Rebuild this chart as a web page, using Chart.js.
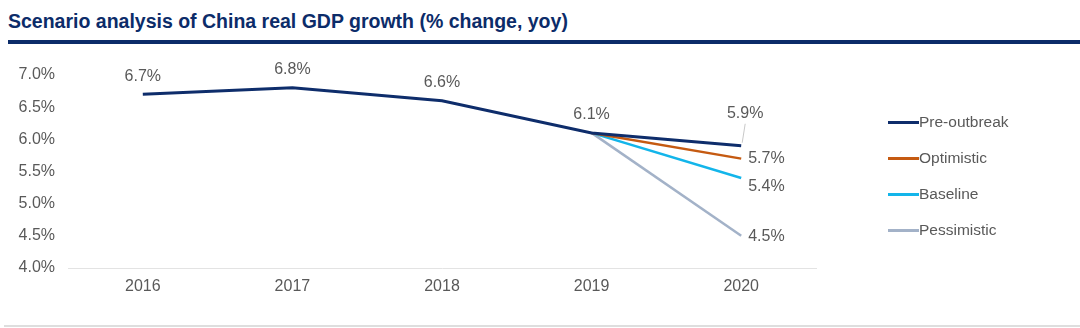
<!DOCTYPE html>
<html>
<head>
<meta charset="utf-8">
<script src="https://cdn.jsdelivr.net/npm/chart.js@4/dist/chart.umd.min.js"></script>
<style>
  body { margin: 0; background: #fff; font-family: 'Liberation Sans', Arial, sans-serif; }
  .wrap { position: relative; width: 1080px; height: 328px; overflow: hidden; }
  .title { position: absolute; left: 8px; top: 10px; font-size: 19.5px; font-weight: bold; color: #0c2c69; white-space: nowrap; }
  .rule { position: absolute; left: 8px; right: 0; top: 40px; height: 4px; background: #0c2c69; }
  .foot { position: absolute; left: 4px; right: 0; top: 325px; height: 2px; background: #dedede; }
  canvas { position: absolute; left: 0; top: 50px; }
  .legend { position: absolute; left: 888px; top: 112px; }
  .legend .item { height: 36px; display: flex; align-items: flex-start; font-size: 15.5px; color: #595959; line-height: 20px; }
  .legend .swatch { width: 31px; height: 3px; margin-top: 9px; }
</style>
</head>
<body>
<div class="wrap">
  <div class="title">Scenario analysis of China real GDP growth (% change, yoy)</div>
  <div class="rule"></div>
  <canvas id="chart" width="1080" height="250"></canvas>
  <div class="legend" id="legend"></div>
  <div class="foot"></div>
</div>
<script>
// data
const years = ['2016', '2017', '2018', '2019', '2020'];
const preOutbreak = [6.7, 6.8, 6.6, 6.1, 5.9];
const optimistic = [null, null, null, 6.1, 5.7];
const baseline = [null, null, null, 6.1, 5.4];
const pessimistic = [null, null, null, 6.1, 4.5];

const textColor = '#595959';
const fontFamily = "'Liberation Sans', Arial, sans-serif";

// which points get a value label, and where it sits
const labelStyles = [
  { points: [0, 1, 2, 3], place: 'above' },
  { points: [4], place: 'right', dy: 0 },
  { points: [4], place: 'right', dy: 9 },
  { points: [4], place: 'right', dy: 1 },
];

//value labels, plus the leader for the pre-outbreak 2020 label
const valueLabels = {
  id: 'valueLabels',
  afterDatasetsDraw(chart) {
    const ctx = chart.ctx;
    ctx.save();
    ctx.font = '16px ' + fontFamily;
    ctx.fillStyle = textColor;
    ctx.textBaseline = 'middle';
    chart.data.datasets.forEach((ds, i) => {
      const meta = chart.getDatasetMeta(i);
      const style = labelStyles[i];
      style.points.forEach((idx) => {
        const pt = meta.data[idx];
        const text = ds.data[idx].toFixed(1) + '%';
        if (style.place === 'above') {
          ctx.textAlign = 'center';
          ctx.fillText(text, pt.x, pt.y - 18);
        } else {
          ctx.textAlign = 'left';
          ctx.fillText(text, pt.x + 7, pt.y + style.dy);
        }
      });
    });
    // 5.9% sits high above its point with a short leader
    const last = chart.getDatasetMeta(0).data[4];
    ctx.textAlign = 'center';
    ctx.fillText(preOutbreak[4].toFixed(1) + '%', last.x + 4, last.y - 32);
    ctx.strokeStyle = '#c8c8c8';
    ctx.lineWidth = 1;
    ctx.beginPath();
    ctx.moveTo(last.x + 4, last.y - 22);
    ctx.lineTo(last.x + 1, last.y - 3);
    ctx.stroke();
    ctx.restore();
  },
};

const datasets = [
  { label: 'Pre-outbreak', data: preOutbreak, borderColor: '#0e2d6b', borderWidth: 3 },
  { label: 'Optimistic', data: optimistic, borderColor: '#c55a11', borderWidth: 2.5 },
  { label: 'Baseline', data: baseline, borderColor: '#13b5ea', borderWidth: 2.5 },
  { label: 'Pessimistic', data: pessimistic, borderColor: '#a3b2c8', borderWidth: 2.5 },
];

new Chart(document.getElementById('chart'), {
  type: 'line',
  data: {
    labels: years,
    datasets: datasets.map((d) => ({
      ...d,
      pointRadius: 0,
      tension: 0,
      fill: false,
      borderCapStyle: 'butt',
    })),
  },
  options: {
    responsive: false,
    animation: false,
    layout: { padding: { top: 25, right: 264, left: 0, bottom: 0 } },
    plugins: {
      legend: { display: false },
      tooltip: { enabled: false },
    },
    scales: {
      x: {
        offset: true,
        grid: { display: false, drawTicks: false },
        border: { display: true, color: '#e3e3e3', width: 1 },
        ticks: { color: textColor, font: { size: 16, family: fontFamily }, padding: 9 },
        afterFit: (s) => { s.height = 32; },
      },
      y: {
        min: 4,
        max: 7,
        grid: { display: false, drawTicks: false },
        border: { display: false },
        ticks: {
          stepSize: 0.5,
          color: textColor,
          font: { size: 16, family: fontFamily },
          padding: 13,
          callback: (v) => v.toFixed(1) + '%',
        },
        afterFit: (s) => { s.width = 68; },
      },
    },
  },
  plugins: [valueLabels],
});

//html legend
const legend = document.getElementById('legend');
datasets.forEach((d) => {
  const item = document.createElement('div');
  item.className = 'item';
  item.innerHTML = '<span class="swatch" style="background:' + d.borderColor + '"></span><span>' + d.label + '</span>';
  legend.appendChild(item);
});
</script>
</body>
</html>
